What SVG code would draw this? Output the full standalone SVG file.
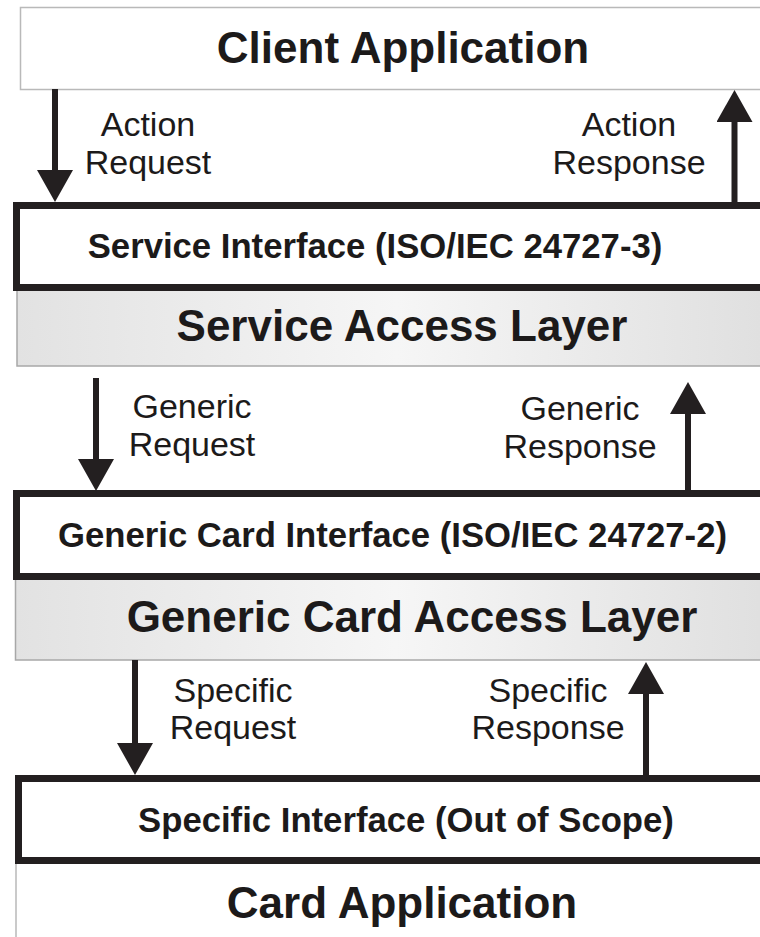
<svg xmlns="http://www.w3.org/2000/svg" width="760" height="937" viewBox="0 0 760 937">
<style>
.bg{fill:#ffffff}
.thin{fill:#ffffff;stroke:#b9b9b9;stroke-width:1.5}
.layer{fill:url(#g);stroke:#a8a8a8;stroke-width:1.5}
.iface{fill:#ffffff;stroke:#231f20;stroke-width:7}
.head{font-family:"Liberation Sans",Arial,sans-serif;font-weight:bold;font-size:44px;fill:#1c1a1a;text-anchor:middle}
.itxt{font-family:"Liberation Sans",Arial,sans-serif;font-weight:bold;font-size:34.7px;fill:#1c1a1a;text-anchor:middle}
.lbl{font-family:"Liberation Sans",Arial,sans-serif;font-size:34px;fill:#1c1a1a;text-anchor:middle}
.arr{stroke:#231f20;stroke-width:6;fill:none;marker-end:url(#ah)}
</style>
<defs>
<linearGradient id="g" x1="0" y1="0" x2="1" y2="0">
<stop offset="0" stop-color="#e2e2e2"/>
<stop offset="0.5" stop-color="#f6f6f6"/>
<stop offset="1" stop-color="#dfdfdf"/>
</linearGradient>
<marker id="ah" viewBox="0 0 32 36" refX="12" refY="18" markerWidth="32" markerHeight="36" markerUnits="userSpaceOnUse" orient="auto">
<path d="M0,0 L32,18 L0,36 Z" fill="#231f20"/>
</marker>
</defs>
<rect class="bg" x="0" y="0" width="760" height="937"/>

<g id="client-application">
<rect class="thin" x="20.5" y="7.5" width="760" height="82"/>
<text class="head" x="403" y="63">Client Application</text>
</g>

<g id="service-access-layer">
<rect class="layer" x="17" y="289" width="760" height="77"/>
<text class="head" x="402" y="341">Service Access Layer</text>
</g>

<g id="service-interface">
<rect class="iface" x="16.5" y="205.5" width="760" height="82"/>
<text class="itxt" x="375" y="258">Service Interface (ISO/IEC 24727-3)</text>
</g>

<g id="generic-card-access-layer">
<rect class="layer" x="15.5" y="579" width="760" height="81"/>
<text class="head" x="412" y="632">Generic Card Access Layer</text>
</g>

<g id="generic-card-interface">
<rect class="iface" x="16.5" y="493.5" width="760" height="83"/>
<text class="itxt" x="392.5" y="547">Generic Card Interface (ISO/IEC 24727-2)</text>
</g>

<g id="card-application">
<rect class="thin" x="16" y="862" width="760" height="90"/>
<text class="head" x="402" y="918">Card Application</text>
</g>

<g id="specific-interface">
<rect class="iface" x="18.5" y="778.5" width="760" height="82"/>
<text class="itxt" x="406" y="832">Specific Interface (Out of Scope)</text>
</g>

<g id="connectors">
<line class="arr" x1="55" y1="89" x2="55" y2="182"/>
<line class="arr" x1="734.5" y1="202" x2="734.5" y2="110"/>
<line class="arr" x1="96" y1="378" x2="96" y2="471"/>
<line class="arr" x1="688" y1="490" x2="688" y2="402"/>
<line class="arr" x1="135" y1="660" x2="135" y2="755"/>
<line class="arr" x1="646" y1="775" x2="646" y2="682"/>
<text class="lbl" x="148" y="136">Action</text>
<text class="lbl" x="148" y="174">Request</text>
<text class="lbl" x="629" y="136">Action</text>
<text class="lbl" x="629" y="174">Response</text>
<text class="lbl" x="192" y="418">Generic</text>
<text class="lbl" x="192" y="456">Request</text>
<text class="lbl" x="580" y="420">Generic</text>
<text class="lbl" x="580" y="458">Response</text>
<text class="lbl" x="233" y="702">Specific</text>
<text class="lbl" x="233" y="739">Request</text>
<text class="lbl" x="548" y="702">Specific</text>
<text class="lbl" x="548" y="739">Response</text>
</g>
</svg>
